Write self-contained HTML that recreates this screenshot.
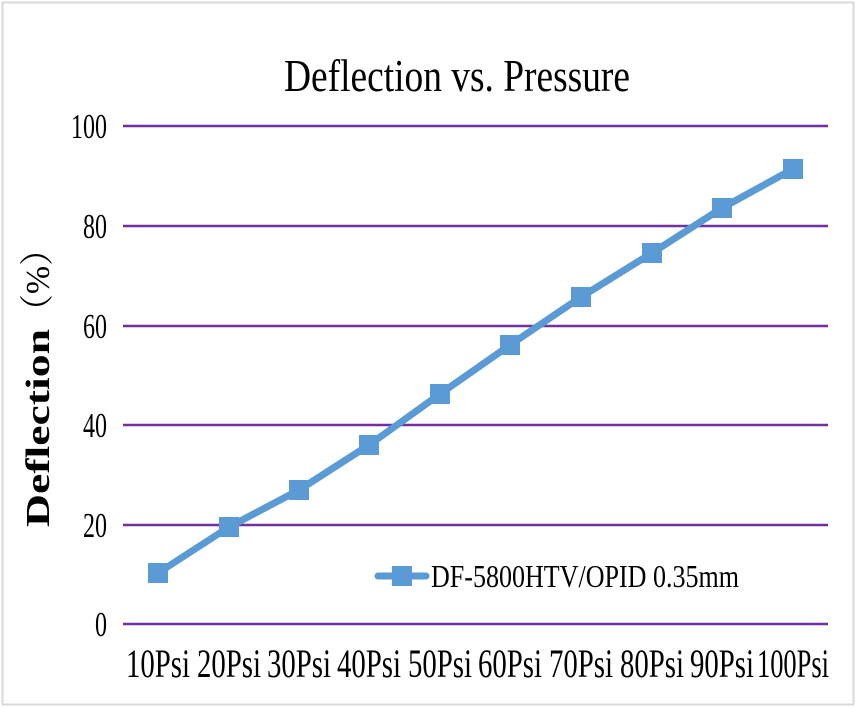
<!DOCTYPE html>
<html><head><meta charset="utf-8"><style>
html,body{margin:0;padding:0;background:#fff;}
svg{display:block;}
text{font-family:"Liberation Serif","Noto Serif CJK SC",serif;fill:#000;}
</style></head><body>
<svg width="857" height="708" viewBox="0 0 857 708" xmlns="http://www.w3.org/2000/svg">
<rect x="2.5" y="2.5" width="851" height="702" fill="#fff" stroke="#d9d9d9" stroke-width="2"/>
<text x="457" y="91" font-size="45" text-anchor="middle" textLength="346" lengthAdjust="spacingAndGlyphs">Deflection vs. Pressure</text>
<g stroke="#7030a0" stroke-width="2.5">
<line x1="123" y1="126" x2="828" y2="126"/>
<line x1="123" y1="226" x2="828" y2="226"/>
<line x1="123" y1="326" x2="828" y2="326"/>
<line x1="123" y1="425" x2="828" y2="425"/>
<line x1="123" y1="525" x2="828" y2="525"/>
<line x1="123" y1="624" x2="828" y2="624"/>
</g>
<g font-size="35" text-anchor="end">
<text x="107" y="138" textLength="36" lengthAdjust="spacingAndGlyphs">100</text>
<text x="107" y="238" textLength="24" lengthAdjust="spacingAndGlyphs">80</text>
<text x="107" y="338" textLength="24" lengthAdjust="spacingAndGlyphs">60</text>
<text x="107" y="437" textLength="24" lengthAdjust="spacingAndGlyphs">40</text>
<text x="107" y="537" textLength="24" lengthAdjust="spacingAndGlyphs">20</text>
<text x="107" y="636" textLength="12" lengthAdjust="spacingAndGlyphs">0</text>
</g>
<g font-size="40" text-anchor="middle">
<text x="158" y="677" textLength="64" lengthAdjust="spacingAndGlyphs">10Psi</text>
<text x="229" y="677" textLength="64" lengthAdjust="spacingAndGlyphs">20Psi</text>
<text x="299" y="677" textLength="64" lengthAdjust="spacingAndGlyphs">30Psi</text>
<text x="369" y="677" textLength="64" lengthAdjust="spacingAndGlyphs">40Psi</text>
<text x="440" y="677" textLength="64" lengthAdjust="spacingAndGlyphs">50Psi</text>
<text x="510" y="677" textLength="64" lengthAdjust="spacingAndGlyphs">60Psi</text>
<text x="581" y="677" textLength="64" lengthAdjust="spacingAndGlyphs">70Psi</text>
<text x="652" y="677" textLength="64" lengthAdjust="spacingAndGlyphs">80Psi</text>
<text x="722" y="677" textLength="64" lengthAdjust="spacingAndGlyphs">90Psi</text>
<text x="793" y="677" textLength="72" lengthAdjust="spacingAndGlyphs">100Psi</text>
</g>
<text transform="translate(49,527) rotate(-90)" font-size="34" font-weight="bold" textLength="198" lengthAdjust="spacingAndGlyphs">Deflection</text>
<text transform="translate(49,328) rotate(-90)" font-size="34" textLength="96" lengthAdjust="spacingAndGlyphs">（%）</text>
<polyline fill="none" stroke="#5b9bd5" stroke-width="7" stroke-linejoin="round" points="158,573 229,527 299,490 369,445 440,394 510,345 581,297 652,253 722,208 793,169"/>
<g fill="#5b9bd5">
<rect x="148" y="563" width="20" height="20"/>
<rect x="219" y="517" width="20" height="20"/>
<rect x="289" y="480" width="20" height="20"/>
<rect x="359" y="435" width="20" height="20"/>
<rect x="430" y="384" width="20" height="20"/>
<rect x="500" y="335" width="20" height="20"/>
<rect x="571" y="287" width="20" height="20"/>
<rect x="642" y="243" width="20" height="20"/>
<rect x="712" y="198" width="20" height="20"/>
<rect x="783" y="159" width="20" height="20"/>
</g>
<line x1="378" y1="576" x2="426" y2="576" stroke="#5b9bd5" stroke-width="7" stroke-linecap="round"/>
<rect x="392" y="566" width="20" height="20" fill="#5b9bd5"/>
<text x="431" y="587" font-size="32" textLength="308" lengthAdjust="spacingAndGlyphs">DF-5800HTV/OPID 0.35mm</text>
</svg>
</body></html>
